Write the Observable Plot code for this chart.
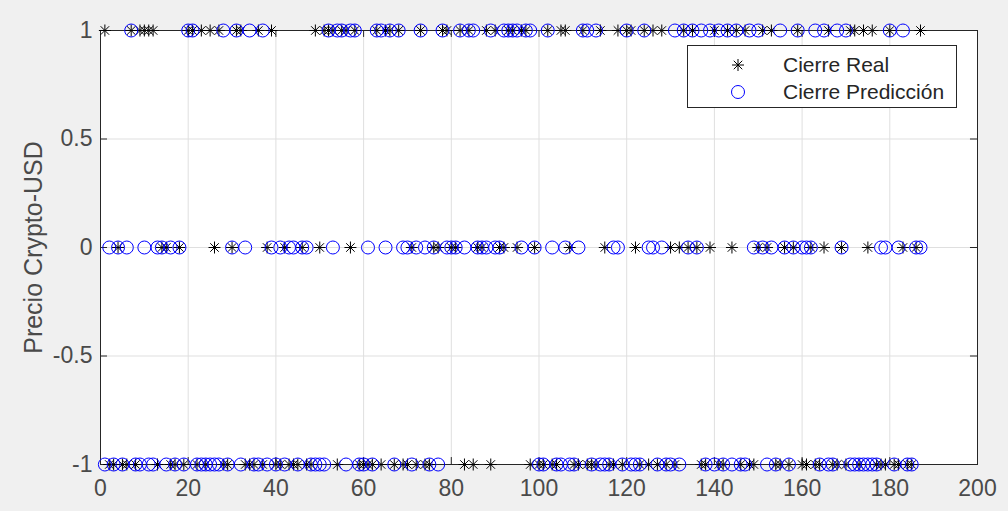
<!DOCTYPE html>
<html>
<head>
<meta charset="utf-8">
<script src="https://cdn.jsdelivr.net/npm/d3@7"></script>
<script src="https://cdn.jsdelivr.net/npm/@observablehq/plot@0.6"></script>
<style>
  body { margin: 0; background: #f0f0f0; }
  #wrap { position: relative; width: 1008px; height: 511px; overflow: hidden; }
  #legend { position: absolute; left: 687px; top: 45px; width: 268px; height: 61px;
    border: 1px solid #262626; background: #fff;
    font-family: "Liberation Sans", Arial, sans-serif; font-size: 21px; color: #262626; }
  .row { position: absolute; left: 0; height: 26px; width: 268px; }
  .row svg { position: absolute; left: 35px; top: 0; }
  .row span { position: absolute; left: 95px; top: 0; line-height: 26px; white-space: nowrap; }
</style>
</head>
<body>
<div id="wrap"></div>
<script>
// Cierre Real (values for samples 1..187)
const real = [
  1,-1,-1,0,-1,-1,1,-1,1,1,
  1,1,-1,0,0,-1,-1,0,-1,1,
  1,-1,1,-1,1,0,1,-1,-1,0,
  1,1,-1,-1,-1,1,-1,0,1,-1,
  -1,0,-1,-1,-1,0,-1,-1,1,0,
  1,1,1,-1,1,1,0,1,-1,-1,
  -1,-1,1,-1,1,1,-1,1,-1,-1,
  0,-1,1,-1,-1,0,0,1,1,0,
  0,1,-1,1,-1,0,0,1,-1,1,
  0,0,1,1,0,1,1,-1,0,-1,
  -1,1,-1,-1,1,1,0,-1,-1,1,
  -1,-1,-1,1,0,-1,-1,1,-1,1,
  1,0,-1,1,-1,1,-1,1,-1,0,
  -1,0,1,0,1,0,-1,-1,0,1,
  -1,-1,1,0,1,-1,1,-1,-1,0,
  1,0,1,-1,-1,0,-1,0,1,-1,
  -1,0,-1,-1,0,1,-1,-1,0,-1,
  1,1,-1,1,0,1,-1,-1,-1,1,
  -1,-1,0,-1,-1,0,1
];
// Cierre Predicción (values for samples 1..187)
const pred = [
  -1,0,-1,0,-1,0,1,-1,-1,0,
  -1,-1,0,0,-1,0,-1,0,-1,1,
  1,-1,-1,-1,-1,-1,-1,1,-1,0,
  1,-1,0,1,-1,-1,1,-1,0,-1,
  0,-1,0,0,-1,0,0,-1,-1,-1,
  -1,1,0,1,1,-1,1,1,-1,-1,
  0,-1,1,1,0,1,-1,1,0,0,
  -1,0,1,0,-1,0,-1,1,0,0,
  0,1,0,1,1,0,0,0,1,0,
  0,1,1,1,1,0,1,1,0,-1,
  -1,1,0,-1,-1,0,-1,-1,0,1,
  1,-1,1,-1,-1,-1,0,0,-1,1,
  -1,-1,-1,1,0,0,-1,0,-1,-1,
  1,-1,1,0,1,0,1,-1,1,-1,
  1,-1,1,-1,1,-1,-1,1,0,1,
  0,-1,0,-1,1,0,-1,0,1,0,
  0,0,1,-1,1,-1,-1,1,0,1,
  -1,-1,-1,-1,-1,-1,-1,0,0,1,
  -1,0,1,-1,-1,0,0
];
const xTicks = [0, 20, 40, 60, 80, 100, 120, 140, 160, 180, 200];
const yTicks = [-1, -0.5, 0, 0.5, 1];
const yLabels = ["-1", "-0.5", "0", "0.5", "1"];
const yLabel = "Precio Crypto-USD";
const legendLabels = ["Cierre Real", "Cierre Predicción"];

const realData = real.map((v, i) => ({x: i + 1, y: v}));
const predData = pred.map((v, i) => ({x: i + 1, y: v}));

const asterisk8 = {
  draw(context, size) {
    const r = Math.sqrt(size / Math.PI);
    const d = r * Math.SQRT1_2;
    context.moveTo(-r, 0); context.lineTo(r, 0);
    context.moveTo(0, -r); context.lineTo(0, r);
    context.moveTo(-d, -d); context.lineTo(d, d);
    context.moveTo(-d, d); context.lineTo(d, -d);
  }
};

const axisColor = "#262626";
const textColor = "#4a4a4a";
const font = "'Liberation Sans', Arial, sans-serif";

const chart = Plot.plot({
  width: 1008,
  height: 511,
  marginLeft: 100,
  marginRight: 31,
  marginTop: 30,
  marginBottom: 47,
  style: {background: "transparent", fontFamily: font, fontSize: "23px", color: textColor},
  x: {domain: [0, 200]},
  y: {domain: [-1, 1]},
  marks: [
    Plot.frame({fill: "white", stroke: "none"}),
    Plot.ruleX(xTicks, {stroke: "#dfdfdf", strokeWidth: 1}),
    Plot.ruleY(yTicks, {stroke: "#dfdfdf", strokeWidth: 1}),
    // inward tick marks (bottom, top, left, right)
    Plot.ruleX(xTicks, {y1: -1, y2: -0.968, stroke: axisColor}),
    Plot.ruleX(xTicks, {y1: 1, y2: 0.968, stroke: axisColor}),
    Plot.ruleY(yTicks, {x1: 0, x2: 1.6, stroke: axisColor}),
    Plot.ruleY(yTicks, {x1: 200, x2: 198.4, stroke: axisColor}),
    Plot.frame({stroke: axisColor, strokeWidth: 1}),
    Plot.axisX(xTicks, {tickSize: 0, tickPadding: 15, fontSize: 23, fill: textColor, label: null}),
    Plot.axisY(yTicks, {tickSize: 0, tickPadding: 8, fontSize: 23, fill: textColor, label: null,
      tickFormat: (d) => yLabels[yTicks.indexOf(d)]}),
    Plot.text([yLabel], {frameAnchor: "left", dx: -67, rotate: -90, fontSize: 25, fill: textColor,
      text: (d) => d, lineAnchor: "middle", textAnchor: "middle"}),
    Plot.dot(realData, {x: "x", y: "y", symbol: asterisk8, r: 6, stroke: "black", fill: "none", strokeWidth: 1}),
    Plot.dot(predData, {x: "x", y: "y", symbol: "circle", r: 6.5, stroke: "#0000ff", fill: "none", strokeWidth: 1})
  ]
});

const wrap = document.getElementById("wrap");
wrap.appendChild(chart);

const legend = document.createElement("div");
legend.id = "legend";
legend.innerHTML = `
  <div class="row" style="top:6px">
    <svg width="30" height="26" viewBox="-15 -13 30 26">
      <path d="M-6,0L6,0M0,-6L0,6M-4.24,-4.24L4.24,4.24M-4.24,4.24L4.24,-4.24" stroke="black" stroke-width="1" fill="none"/>
    </svg>
    <span>${legendLabels[0]}</span>
  </div>
  <div class="row" style="top:33px">
    <svg width="30" height="26" viewBox="-15 -13 30 26">
      <circle r="6.5" stroke="#0000ff" stroke-width="1" fill="none"/>
    </svg>
    <span>${legendLabels[1]}</span>
  </div>`;
wrap.appendChild(legend);
</script>
</body>
</html>
